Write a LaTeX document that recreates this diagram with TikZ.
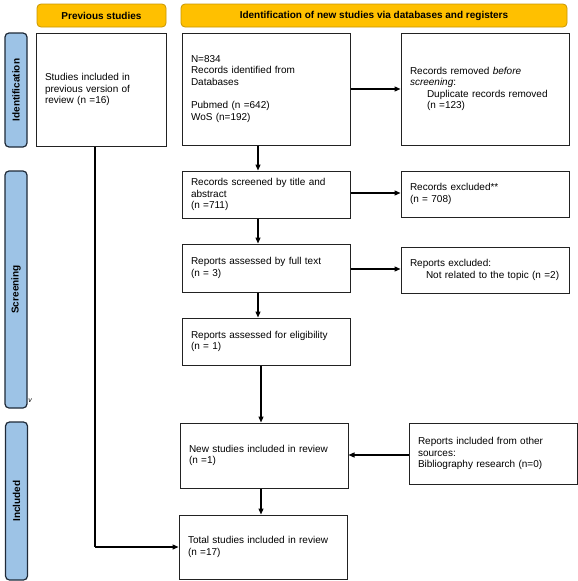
\documentclass[tikz,border=0pt]{standalone}
\usepackage{fontspec}
\setmainfont{Liberation Sans}
\usetikzlibrary{arrows.meta,calc}
\definecolor{hdryellow}{HTML}{FFC000}
\definecolor{hdrborder}{HTML}{C89600}
\definecolor{sideblue}{HTML}{9DC3E6}
\definecolor{sideborder}{HTML}{1F2A38}
\definecolor{boxborder}{HTML}{222222}
\begin{document}
\begin{tikzpicture}[x=1pt,y=-1pt,
  every node/.style={font=\fontsize{10}{11.5}\selectfont, inner sep=0pt},
  hdr/.style={draw=hdrborder, fill=hdryellow, rounded corners=4pt, line width=0.8pt,
    font=\bfseries\fontsize{10}{12}\selectfont, minimum height=23pt},
  side/.style={draw=sideborder, fill=sideblue, rounded corners=4pt, line width=1.2pt,
    rotate=90, font=\bfseries\fontsize{10}{12}\selectfont, minimum height=22pt},
  box/.style={draw=boxborder, line width=1pt, align=left, inner xsep=9pt, text width=150pt,
    minimum width=168pt},
  arr/.style={line width=1.3pt, -{Triangle[length=6pt,width=5pt]}},
  lin/.style={line width=1.3pt}
]
\useasboundingbox (0,0) rectangle (578,581);

% headers
\node[hdr, minimum width=129pt] (prevhdr) at (101.5,15.5) {Previous studies};
\node[hdr, minimum width=386pt] (idhdr) at (374,15.5) {Identification of new studies via databases and registers};

% side bars
\node[side, minimum width=114pt] (sideid) at (16,90) {Identification};
\node[side, minimum width=237pt] (sidescr) at (16,289.5) {Screening};
\node[side, minimum width=158pt] (sideinc) at (16.5,501) {Included};
\node (vmark) at (30,401) {\fontsize{7}{7}\selectfont\itshape v};

% boxes
\node[box, text width=112pt, minimum width=130pt, minimum height=113pt] (prev) at (101,89.5)
  {Studies included in\\ previous version of\\ review (n =16)};
\node[box, minimum height=112pt] (n834) at (266,89)
  {N=834\\ Records identified from\\ Databases\\[12pt] Pubmed (n =642)\\ WoS (n=192)};
\node[box, minimum height=112pt] (removed) at (485,89)
  {Records removed \textit{before}\\ \textit{screening}:\\ \hspace*{17pt}Duplicate records removed\\ \hspace*{17pt}(n =123)};
\node[box, minimum height=47pt] (screened) at (266,194.5)
  {Records screened by title and\\ abstract\\ (n =711)};
\node[box, minimum height=46pt] (excl) at (485,194)
  {Records excluded**\\ (n = 708)};
\node[box, minimum height=48pt] (fulltext) at (266,268)
  {Reports assessed by full text\\ (n = 3)};
\node[box, minimum height=46pt] (rexcl) at (485,270)
  {Reports excluded:\\ \hspace*{16pt}Not related to the topic (n =2)};
\node[box, minimum height=47pt] (elig) at (266,341.5)
  {Reports assessed for eligibility\\ (n = 1)};
\node[box, minimum height=65pt] (newst) at (264,455.5)
  {New studies included in review\\ (n =1)};
\node[box, minimum height=61pt] (other) at (493,453.5)
  {Reports included from other\\ sources:\\ Bibliography research (n=0)};
\node[box, minimum height=64pt] (total) at (263,547)
  {Total studies included in review\\ (n =17)};

% helper columns
\coordinate (colA) at (258,0);
\coordinate (colB) at (261,0);
\coordinate (prevcol) at (95,0);
\coordinate (corner) at (95,547);

% connectors
\draw[arr] (n834.east) -- (removed.west);
\draw[arr] (n834.south -| colA) -- (screened.north -| colA);
\draw[arr] (screened.east |- 0,193) -- (excl.west |- 0,193);
\draw[arr] (screened.south -| colA) -- (fulltext.north -| colA);
\draw[arr] (fulltext.east |- 0,269) -- (rexcl.west |- 0,269);
\draw[arr] (fulltext.south -| colA) -- (elig.north -| colA);
\draw[arr] (elig.south -| colB) -- (newst.north -| colB);
\draw[arr] (other.west |- 0,455) -- (newst.east |- 0,455);
\draw[arr] (newst.south -| colB) -- (total.north -| colB);
\draw[lin] (prev.south -| prevcol) -- (corner);
\draw[arr] (corner) -- (total.west |- corner);
\end{tikzpicture}
\end{document}
